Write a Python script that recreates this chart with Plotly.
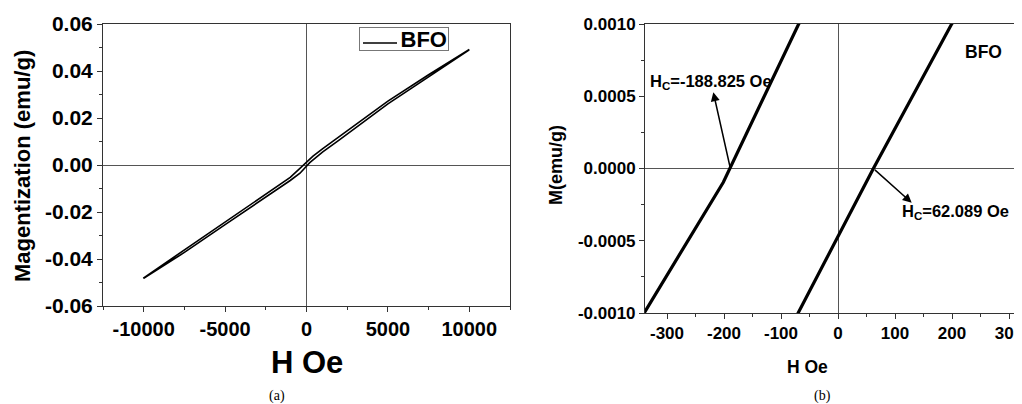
import plotly.graph_objects as go

# ---------------- data ----------------
H_desc = [10000, 7500, 5000, 2000, 1000, 400, -69, -188.825, -201.2, -338.6,
          -1000, -2000, -5000, -7500, -10000]
M_desc = [0.0492, 0.0384, 0.0272, 0.0122, 0.0070, 0.0038, 0.0010, 0.0, -0.000095,
          -0.00099, -0.0053, -0.0100, -0.0242, -0.0360, -0.0480]
H_asc = [-10000, -7500, -5000, -2000, -1000, -400, -69, 0, 62.089, 199.4,
         1000, 2000, 5000, 7500, 10000]
M_asc = [-0.0482, -0.0372, -0.0254, -0.0114, -0.0066, -0.0035, -0.0010, -0.00048,
         0.0, 0.0010, 0.0056, 0.0106, 0.0260, 0.0374, 0.0490]

series_name = "BFO"
Hc_neg = -188.825
Hc_pos = 62.089

a_xticks = [-10000, -5000, 0, 5000, 10000]
a_xlabels = ["-10000", "-5000", "0", "5000", "10000"]
a_yticks = [0.06, 0.04, 0.02, 0.0, -0.02, -0.04, -0.06]
a_ylabels = ["0.06", "0.04", "0.02", "0.00", "-0.02", "-0.04", "-0.06"]
b_xticks = [-300, -200, -100, 0, 100, 200, 300]
b_xlabels = ["-300", "-200", "-100", "0", "100", "200", "300"]
b_yticks = [0.001, 0.0005, 0.0, -0.0005, -0.001]
b_ylabels = ["0.0010", "0.0005", "0.0000", "-0.0005", "-0.0010"]

# arrow heads (data coords of panel b)
arrow1_head = (-218.8, 0.000528)
arrow2_head = (129.3, -0.000237)

H_loop = H_desc + H_asc
M_loop = M_desc + M_asc

FONT = "Liberation Sans, Arial, sans-serif"
# the page body adds an 8px offset; the figure fills the rest of the window
OFF = 8
W, Hpx = 1022 - OFF, 404 - OFF

def px(x):
    return (x - OFF) / W

def py(y):
    return 1 - (y - OFF) / Hpx

fig = go.Figure()
fig.add_trace(go.Scatter(x=H_loop, y=M_loop, mode="lines", name=series_name,
                         showlegend=False,
                         line=dict(color="black", width=1.6),
                         xaxis="x", yaxis="y"))
fig.add_trace(go.Scatter(x=H_loop, y=M_loop, mode="lines", name=series_name,
                         showlegend=False,
                         line=dict(color="black", width=3.2),
                         xaxis="x2", yaxis="y2"))

axis_common = dict(showgrid=False, showline=True, linecolor="#333", linewidth=1,
                   ticks="outside", tickcolor="#333", ticklen=5,
                   zeroline=True, zerolinecolor="#555", zerolinewidth=1,
                   automargin=False)

fig.update_layout(
    width=W, height=Hpx,
    margin=dict(l=0, r=0, t=0, b=0, pad=0, autoexpand=False),
    paper_bgcolor="white", plot_bgcolor="white",
    showlegend=False,
    xaxis=dict(domain=[px(103), px(510)], range=[-12500, 12500], anchor="y",
               mirror=True, tickvals=a_xticks, ticktext=a_xlabels,
               tickfont=dict(family=FONT, size=20, color="black", weight="bold"),
               minor=dict(dtick=2500, tick0=0, ticks="outside", ticklen=3, tickcolor="#333"),
               **axis_common),
    yaxis=dict(domain=[py(306), py(24)], range=[-0.06, 0.06], anchor="x",
               mirror=True, tickvals=a_yticks, ticktext=a_ylabels,
               tickfont=dict(family=FONT, size=21, color="black", weight="bold"),
               minor=dict(dtick=0.01, tick0=0, ticks="outside", ticklen=3, tickcolor="#333"),
               **axis_common),
    xaxis2=dict(domain=[px(645), 1.0], range=[-338.6, 322.8], anchor="y2",
                mirror=True, tickvals=b_xticks, ticktext=b_xlabels,
                ticklabeloverflow="allow",
                tickfont=dict(family=FONT, size=17, color="black", weight="bold"),
                minor=dict(dtick=50, tick0=0, ticks="outside", ticklen=3, tickcolor="#333"),
                **axis_common),
    yaxis2=dict(domain=[py(313), py(24)], range=[-0.001, 0.001], anchor="x2",
                mirror=False, tickvals=b_yticks, ticktext=b_ylabels,
                tickfont=dict(family=FONT, size=17, color="black", weight="bold"),
                minor=dict(dtick=0.00025, tick0=0, ticks="outside", ticklen=3, tickcolor="#333"),
                **axis_common),
)

ann = []
# axis titles
ann.append(dict(text="H Oe", x=px(307), y=py(362), xref="paper", yref="paper",
                showarrow=False, xanchor="center", yanchor="middle",
                font=dict(family=FONT, size=31, color="black", weight="bold")))
ann.append(dict(text="Magentization (emu/g)", x=px(22), y=py(166), xref="paper", yref="paper",
                showarrow=False, xanchor="center", yanchor="middle", textangle=-90,
                font=dict(family=FONT, size=22, color="black", weight="bold")))
ann.append(dict(text="H Oe", x=px(807), y=py(367), xref="paper", yref="paper",
                showarrow=False, xanchor="center", yanchor="middle",
                font=dict(family=FONT, size=17.5, color="black", weight="bold")))
ann.append(dict(text="M(emu/g)", x=px(556), y=py(165), xref="paper", yref="paper",
                showarrow=False, xanchor="center", yanchor="middle", textangle=-90,
                font=dict(family=FONT, size=18, color="black", weight="bold")))
# panel labels
ann.append(dict(text="(a)", x=px(277), y=py(396), xref="paper", yref="paper",
                showarrow=False, xanchor="center", yanchor="middle",
                font=dict(family="Liberation Serif, Times New Roman, serif", size=14, color="black")))
ann.append(dict(text="(b)", x=px(822), y=py(396), xref="paper", yref="paper",
                showarrow=False, xanchor="center", yanchor="middle",
                font=dict(family="Liberation Serif, Times New Roman, serif", size=14, color="black")))
# legend of panel a (box + sample line + name)
ann.append(dict(text=series_name, x=px(359), y=py(27), xref="paper", yref="paper",
                showarrow=False, xanchor="left", yanchor="top", width=86, height=20,
                align="right", valign="middle", borderpad=1, bordercolor="#777", borderwidth=1,
                font=dict(family=FONT, size=22, color="black", weight="bold")))
# panel b texts
ann.append(dict(text=series_name, x=px(983), y=py(52), xref="paper", yref="paper",
                showarrow=False, xanchor="center", yanchor="middle",
                font=dict(family=FONT, size=17.5, color="black", weight="bold")))
ann.append(dict(text="H<sub>C</sub>=%.3f Oe" % Hc_neg, x=px(711), y=py(82), xref="paper", yref="paper",
                showarrow=False, xanchor="center", yanchor="middle",
                font=dict(family=FONT, size=16.5, color="black", weight="bold")))
ann.append(dict(text="H<sub>C</sub>=%.3f Oe" % Hc_pos, x=px(955), y=py(212), xref="paper", yref="paper",
                showarrow=False, xanchor="center", yanchor="middle",
                font=dict(family=FONT, size=16.5, color="black", weight="bold")))
# arrows from the coercive points
ann.append(dict(text="", x=arrow1_head[0], y=arrow1_head[1], xref="x2", yref="y2",
                ax=Hc_neg, ay=0, axref="x2", ayref="y2", showarrow=True,
                arrowhead=2, arrowsize=1.2, arrowwidth=1.5, arrowcolor="black"))
ann.append(dict(text="", x=arrow2_head[0], y=arrow2_head[1], xref="x2", yref="y2",
                ax=Hc_pos, ay=0, axref="x2", ayref="y2", showarrow=True,
                arrowhead=2, arrowsize=1.2, arrowwidth=1.5, arrowcolor="black"))
fig.update_layout(annotations=ann)

fig.add_shape(type="line", xref="paper", yref="paper", layer="above",
              x0=px(363), x1=px(397), y0=py(43), y1=py(43),
              line=dict(color="black", width=1.6))

fig.write_html("out.html")
